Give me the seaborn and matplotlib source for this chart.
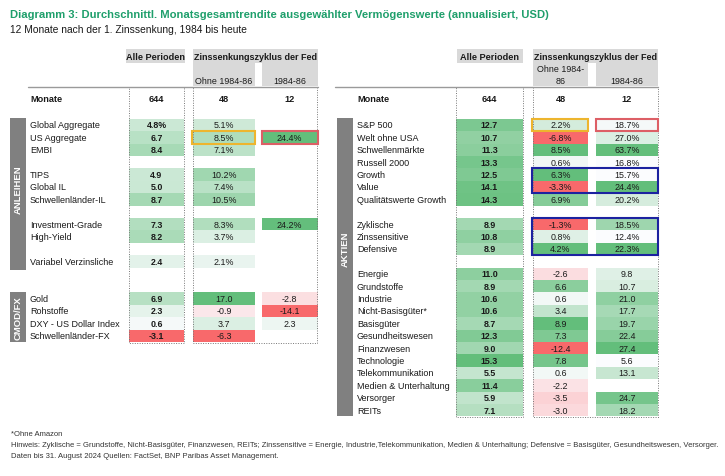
# Diagramm 3: Monatsgesamtrendite - table heatmap

import numpy as np
import seaborn as sns
import matplotlib.pyplot as plt
from matplotlib.colors import LinearSegmentedColormap
from matplotlib.patches import Rectangle

nan = np.nan

# left table (Anleihen, CMOD/FX)
left_labels = ["Global Aggregate", "US Aggregate", "EMBI", "",
               "TIPS", "Global IL", "Schwellenländer-IL", "",
               "Investment-Grade", "High-Yield", "",
               "Variabel Verzinsliche", "", "",
               "Gold", "Rohstoffe", "DXY - US Dollar Index", "Schwellenländer-FX"]
left_alle = [4.8, 6.7, 8.4, nan, 4.9, 5.0, 8.7, nan, 7.3, 8.2, nan, 2.4, nan, nan, 6.9, 2.3, 0.6, -3.1]
left_ohne = [5.1, 8.5, 7.1, nan, 10.2, 7.4, 10.5, nan, 8.3, 3.7, nan, 2.1, nan, nan, 17.0, -0.9, 3.7, -6.3]
left_8486 = [nan, 24.4, nan, nan, nan, nan, nan, nan, 24.2, nan, nan, nan, nan, nan, -2.8, -14.1, 2.3, nan]
left_groups = [0] * 18
left_pct_alle = [0]          # rows shown with % sign
left_pct_fed = list(range(12))

# right table (Aktien)
right_labels = ["S&P 500", "Welt ohne USA", "Schwellenmärkte", "Russell 2000",
                "Growth", "Value", "Qualitätswerte Growth", "",
                "Zyklische", "Zinssensitive", "Defensive", "",
                "Energie", "Grundstoffe", "Industrie", "Nicht-Basisgüter*", "Basisgüter",
                "Gesundheitswesen", "Finanzwesen", "Technologie", "Telekommunikation",
                "Medien & Unterhaltung", "Versorger", "REITs"]
right_alle = [12.7, 10.7, 11.3, 13.3, 12.5, 14.1, 14.3, nan, 8.9, 10.8, 8.9, nan,
              11.0, 8.9, 10.6, 10.6, 8.7, 12.3, 9.0, 15.3, 5.5, 11.4, 5.9, 7.1]
right_ohne = [2.2, -6.8, 8.5, 0.6, 6.3, -3.3, 6.9, nan, -1.3, 0.8, 4.2, nan,
              -2.6, 6.6, 0.6, 3.4, 8.9, 7.3, -12.4, 7.8, 0.6, -2.2, -3.5, -3.0]
right_8486 = [18.7, 27.0, 63.7, 16.8, 15.7, 24.4, 20.2, nan, 18.5, 12.4, 22.3, nan,
              9.8, 10.7, 21.0, 17.7, 19.7, 22.4, 27.4, 5.6, 13.1, nan, 24.7, 18.2]
right_groups = [0, 0, 0, 0, 1, 1, 2, -1, 3, 3, 3, -1] + [4] * 12
right_pct_alle = []
right_pct_fed = list(range(11))

monate = ["644", "48", "12"]

title = "Diagramm 3: Durchschnittl. Monatsgesamtrendite ausgewählter Vermögenswerte (annualisiert, USD)"
subtitle = "12 Monate nach der 1. Zinssenkung, 1984 bis heute"
notes = ["*Ohne Amazon",
         "Hinweis: Zyklische = Grundstoffe, Nicht-Basisgüter, Finanzwesen, REITs; Zinssensitive = Energie, "
         "Industrie,Telekommunikation, Medien & Unterhaltung; Defensive = Basisgüter, Gesundheitswesen, Versorger.",
         "Daten bis 31. August 2024 Quellen: FactSet, BNP Paribas Asset Management."]

sns.set_style("white")
plt.rcParams['font.family'] = ['Liberation Sans', 'DejaVu Sans']

W, H = 725, 477
GREEN = "#63BE7B"
RED = "#F8696B"
GRAY_HDR = "#D9D9D9"
GRAY_BAR = "#808080"
TXT = "#1a1a1a"
cmap = LinearSegmentedColormap.from_list("excel3", [RED, "#FCFCFF", GREEN])

Y0, RH = 119.8, 12.4  # first row top and row height in pixels


def row_y(k):
    return Y0 + (k + 0.5) * RH


def scale(vals, ref):
    # Excel-like colour scale: 0 is white if negatives exist, else min is white
    vals = np.asarray(vals, float)
    lo, hi = np.nanmin(ref), np.nanmax(ref)
    if lo < 0:
        return np.where(vals >= 0, vals / hi, vals / abs(lo))
    return (vals - lo) / (hi - lo)


def col_scale(vals, groups):
    vals = np.asarray(vals, float)
    groups = np.asarray(groups)
    out = np.full(len(vals), nan)
    for g in set(groups[groups >= 0]):
        idx = (groups == g) & ~np.isnan(vals)
        ref = vals[idx] if idx.sum() > 1 else vals
        out[idx] = scale(vals[idx], ref)
    return out


def fmt(vals, pct_rows):
    return np.array([["" if np.isnan(v) else ("%.1f%%" % v if i in pct_rows else "%.1f" % v)]
                     for i, v in enumerate(vals)])


def fig_rect(x0, x1, y0, y1):
    return [x0 / W, 1 - y1 / H, (x1 - x0) / W, (y1 - y0) / H]


fig = plt.figure(figsize=(W / 100, H / 100), dpi=100)

all_alle = np.array(left_alle + right_alle)
n_left = len(left_labels)
n_right = len(right_labels)


def draw_col(x0, x1, nrows, colors, annot, bold):
    ax = fig.add_axes(fig_rect(x0, x1, Y0, Y0 + nrows * RH))
    sns.heatmap(colors.reshape(-1, 1), ax=ax, cmap=cmap, vmin=-1, vmax=1, cbar=False,
                annot=annot, fmt="", xticklabels=False, yticklabels=False, linewidths=0,
                annot_kws={"fontsize": 6.4, "color": TXT,
                           "fontweight": "bold" if bold else "normal"})
    ax.set_xlabel("")
    ax.set_ylabel("")
    return ax


alle_scaled = scale(all_alle, all_alle)
draw_col(129, 184, n_left, alle_scaled[:n_left], fmt(left_alle, left_pct_alle), True)
draw_col(193, 255, n_left, col_scale(left_ohne, left_groups), fmt(left_ohne, left_pct_fed), False)
draw_col(262, 317.5, n_left, col_scale(left_8486, left_groups), fmt(left_8486, left_pct_fed), False)
draw_col(456, 523, n_right, alle_scaled[n_left:], fmt(right_alle, right_pct_alle), True)
draw_col(533, 588, n_right, col_scale(right_ohne, right_groups), fmt(right_ohne, right_pct_fed), False)
draw_col(596, 658, n_right, col_scale(right_8486, right_groups), fmt(right_8486, right_pct_fed), False)

# overlay for texts, header boxes and frames
ov = fig.add_axes([0, 0, 1, 1])
ov.set_xlim(0, W)
ov.set_ylim(H, 0)
ov.axis("off")
ov.patch.set_alpha(0)
ov.set_zorder(5)


def box(x0, x1, y0, y1, **kw):
    ov.add_patch(Rectangle((x0, y0), x1 - x0, y1 - y0, **kw))


ov.text(10, 15, title, fontsize=8.1, fontweight="bold", color="#1E9F6B", va="center")
ov.text(10, 30, subtitle, fontsize=7.4, color=TXT, va="center")

# table headers
for (ax0, ax1, zx0, zx1, ox1, fx0, two_line) in [(126, 185, 193, 318, 255, 262, False),
                                                 (457, 523, 533, 658, 588, 596, True)]:
    box(ax0, ax1, 50, 64, color=GRAY_HDR, lw=0)
    box(zx0, zx1, 50, 64, color=GRAY_HDR, lw=0)
    box(zx0, ox1, 63, 87, color=GRAY_HDR, lw=0)
    box(fx0, zx1, 63, 87, color=GRAY_HDR, lw=0)
    ov.text((ax0 + ax1) / 2, 57, "Alle Perioden", fontsize=6.6, fontweight="bold",
            ha="center", va="center", color=TXT)
    ov.text((zx0 + zx1) / 2, 57, "Zinssenkungszyklus der Fed", fontsize=6.5, fontweight="bold",
            ha="center", va="center", color=TXT)
    if two_line:
        ov.text((zx0 + ox1) / 2, 69.5, "Ohne 1984-", fontsize=6.4, ha="center", va="center", color=TXT)
        ov.text((zx0 + ox1) / 2, 82, "86", fontsize=6.4, ha="center", va="center", color=TXT)
    else:
        ov.text((zx0 + ox1) / 2, 81, "Ohne 1984-86", fontsize=6.4, ha="center", va="center", color=TXT)
    ov.text((fx0 + zx1) / 2, 81 if not two_line else 82, "1984-86", fontsize=6.4,
            ha="center", va="center", color=TXT)

# header rule, Monate row and dotted frames
for (lx0, lx1, lab_x, cols, bottom) in [(28, 318, 30, [(129, 184), (193, 255), (262, 317.5)], Y0 + n_left * RH),
                                         (335, 658, 357, [(456, 523), (533, 588), (596, 658)], Y0 + n_right * RH)]:
    ov.plot([lx0, lx1], [87.5, 87.5], color="#9a9a9a", lw=1.0)
    ov.text(lab_x, 100, "Monate", fontsize=6.6, fontweight="bold", va="center", color=TXT)
    for (cx0, cx1), m in zip(cols, monate):
        ov.text((cx0 + cx1) / 2, 100, m, fontsize=6.6, fontweight="bold", ha="center",
                va="center", color=TXT)
    for fx0, fx1 in [(cols[0][0], cols[0][1]), (cols[1][0], cols[2][1])]:
        box(fx0, fx1, 88, bottom + 1, fill=False, ec="#777777", lw=0.7, ls=(0, (1, 1.5)))

# row labels
for i, lab in enumerate(left_labels):
    ov.text(30, row_y(i), lab, fontsize=6.5, va="center", color=TXT)
for i, lab in enumerate(right_labels):
    ov.text(357, row_y(i), lab, fontsize=6.5, va="center", color=TXT)

# side bars
box(10, 26, Y0 - 1, Y0 + 12 * RH + 2, color=GRAY_BAR, lw=0)
ov.text(18, 190, "ANLEIHEN", rotation=90, color="white", fontsize=6.8,
        fontweight="bold", ha="center", va="center")
box(10, 26, Y0 + 14 * RH, Y0 + 18 * RH, color=GRAY_BAR, lw=0)
ov.text(18, Y0 + 16 * RH, "CMOD/FX", rotation=90, color="white", fontsize=6.8,
        fontweight="bold", ha="center", va="center")
box(337, 353, Y0 - 1, Y0 + n_right * RH, color=GRAY_BAR, lw=0)
ov.text(345, 249, "AKTIEN", rotation=90, color="white", fontsize=6.8,
        fontweight="bold", ha="center", va="center")

# highlight boxes
YEL, RBOX, BLUE = "#EDB52E", "#DD5F66", "#1C22A0"
box(192, 255, Y0 + RH, Y0 + 2 * RH, fill=False, ec=YEL, lw=1.5)
box(262, 318, Y0 + RH, Y0 + 2 * RH, fill=False, ec=RBOX, lw=1.5)
box(532, 588, Y0, Y0 + RH, fill=False, ec=YEL, lw=1.5)
box(596, 658, Y0, Y0 + RH, fill=False, ec=RBOX, lw=1.5)
box(532, 658, Y0 + 4 * RH, Y0 + 6 * RH, fill=False, ec=BLUE, lw=1.5)
box(532, 658, Y0 + 8 * RH, Y0 + 11 * RH, fill=False, ec=BLUE, lw=1.5)

# footnotes
for y, s in zip([435, 446, 456.5], notes):
    ov.text(11, y, s, fontsize=5.5, va="center", color="#333333")

fig.savefig("out.png", dpi=100)
